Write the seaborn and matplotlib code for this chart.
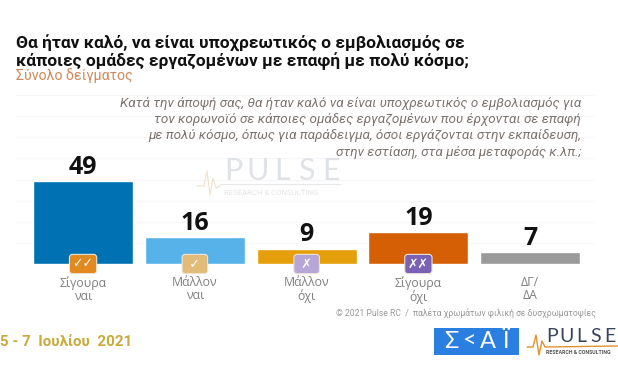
import matplotlib
matplotlib.use('Agg')
import matplotlib.pyplot as plt
from matplotlib.lines import Line2D
from matplotlib.patches import Rectangle
import pandas as pd
import seaborn as sns

categories = ['Σίγουρα\nναι', 'Μάλλον\nναι', 'Μάλλον\nόχι', 'Σίγουρα\nόχι', 'ΔΓ/\nΔΑ']
values = [49, 16, 9, 19, 7]
bar_colors = ['#0071b3', '#56b2e8', '#e59f0a', '#d55f05', '#9a9a9a']
icons = ['✓✓', ' ✓ ', ' ✗ ', '✗✗', '']
icon_colors = ['#e2891f', '#e3bb78', '#b5a6d6', '#7b62b5', 'none']

title = 'Θα ήταν καλό, να είναι υποχρεωτικός ο εμβολιασμός σε\nκάποιες ομάδες εργαζομένων με επαφή με πολύ κόσμο;'
subtitle = 'Σύνολο δείγματος'
question = ['Κατά την άποψή σας, θα ήταν καλό να είναι υποχρεωτικός ο εμβολιασμός για',
            'τον κορωνοϊό σε κάποιες ομάδες εργαζομένων που έρχονται σε επαφή',
            'με πολύ κόσμο, όπως για παράδειγμα, όσοι εργάζονται στην εκπαίδευση,',
            'στην εστίαση, στα μέσα μεταφοράς κ.λπ.;']
note = '© 2021 Pulse RC  /  παλέτα χρωμάτων φιλική σε δυσχρωματοψίες'
date = '5 - 7  Ιουλίου  2021'

W, H = 618, 365
sns.set_theme(style='white')
plt.rcParams['font.family'] = ['Roboto', 'DejaVu Sans']

def fx(x):
	return x / W

def fy(y):
	return 1 - y / H

# logo letters are spaced wide, no letter spacing in matplotlib so one by one
def spaced(f, letters, x0, pitch, y, **kw):
	for i, c in enumerate(letters):
		f.text(fx(x0 + i * pitch), fy(y), c, va='center', ha='center', **kw)

f = plt.figure(figsize=(6.18, 3.65), dpi=100, facecolor='white')
ax = f.add_axes([fx(16), fy(264), (595 - 16) / W, 169 / H])

df = pd.DataFrame({'cat': categories, 'val': values})
sns.barplot(data=df, x='cat', y='val', hue='cat', palette=bar_colors, legend=False,
	width=0.895, saturation=1, ax=ax, zorder=3)

ax.set_xlim(-0.6, 4.58)
ax.set_ylim(0, 100)
ax.set_yticks([i * 12.5 for i in range(9)])
ax.set_yticklabels([])
ax.grid(axis='y', color='#f6f6f6', lw=0.8)
ax.set_axisbelow(True)
ax.set_xlabel('')
ax.set_ylabel('')
ax.tick_params(axis='x', length=0, pad=9, labelsize=8.8, labelcolor='#7f7f7f')
ax.tick_params(axis='y', length=0)
for t in ax.get_xticklabels():
	t.set_linespacing(0.95)
	t.set_family(['Open Sans', 'DejaVu Sans'])
sns.despine(ax=ax, left=True, bottom=True, top=True, right=True)
ax.patch.set_alpha(0)

for i, v in enumerate(values):
	ax.annotate(str(v), (i, v), xytext=(0, 1), textcoords='offset points', ha='center', va='bottom',
		fontsize=18, fontweight='bold', color='#111111', family=['Open Sans', 'DejaVu Sans'], zorder=5)
	if icons[i]:
		ax.text(i, 0, icons[i], ha='center', va='center',
			fontsize=9, fontweight='bold', color='white', family='DejaVu Sans', zorder=6, clip_on=False,
			bbox=dict(boxstyle='round,pad=0.25', fc=icon_colors[i], ec='#ece4da', lw=0.8))

# title block
f.text(fx(16), fy(52), title, fontsize=12.5, fontweight='bold', color='#111111', va='center', ha='left', linespacing=1.02)
f.text(fx(16), fy(76), subtitle, fontsize=10.2, color='#d0885a', va='center', ha='left')
for q, y in zip(question, [103, 120, 136, 152]):
	f.text(fx(581), fy(y), q, fontsize=9.7, style='italic', color='#7d7470', va='center', ha='right')

f.text(fx(596), fy(313), note, fontsize=6.2, color='#9a9a9a', va='center', ha='right')
f.text(fx(0), fy(342), date, fontsize=10.9, fontweight='bold', color='#c9aa3c', va='center', ha='left')

# watermark in the middle of the chart
spaced(f, 'PULSE', 233, 24.5, 171, fontsize=22, color='#dfe2e6', family='Lato', zorder=1)
f.text(fx(224), fy(193), 'RESEARCH & CONSULTING', fontsize=5.6, color='#e3e3e3', va='center', ha='left')
f.add_artist(Line2D([fx(x) for x in [197, 204, 207, 210, 213, 216, 220]],
	[fy(y) for y in [186, 186, 171, 195, 178, 188, 186]], color='#f3e3d0', lw=0.9))
f.add_artist(Line2D([fx(220), fx(340)], [fy(184), fy(184)], color='#e8e8e8', lw=0.8))

# logos bottom right
f.add_artist(Rectangle((fx(434), fy(355)), 85 / W, 27 / H, transform=f.transFigure, fc='#2a7fe0', ec='none'))
spaced(f, 'Σ<ΑΪ', 451, 18.3, 341.5, fontsize=17, color='white', family='Lato')
spaced(f, 'PULSE', 552, 14.5, 337, fontsize=14, color='#3a4658', family='Lato')
f.text(fx(546), fy(352), 'RESEARCH & CONSULTING', fontsize=3.8, fontweight='bold', color='#555555', va='center', ha='left')
f.add_artist(Line2D([fx(x) for x in [527, 533, 536, 539, 542, 545, 618]],
	[fy(y) for y in [347, 347, 335, 355, 341, 347, 346]], color='#e0922f', lw=1.0))

plt.savefig('out.png', dpi=100)
